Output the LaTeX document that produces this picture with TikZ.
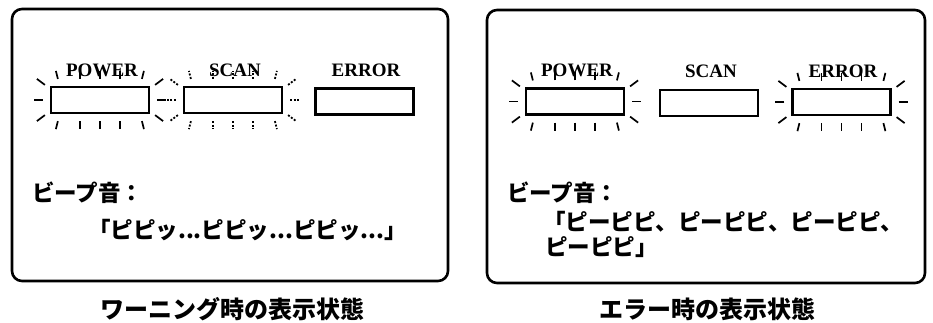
\documentclass[tikz,border=0pt]{standalone}
\usepackage{fontspec}
\newfontfamily\jp{Noto Sans CJK JP}
\newfontfamily\labelfont{Liberation Serif}
\usetikzlibrary{calc}
\newcommand\glowrays[2]{%
  \foreach \dx/\sl in {8/-2,30/0,50/0,70/0,92/2}{%
    \draw[#2] ($(#1.north west)+(\dx,-7)$) -- ++(\sl,-8);
    \draw[#2] ($(#1.south west)+(\dx,7)$) -- ++(\sl,8);
  }
  \draw[#2] ($(#1.north west)+(-5,-1)$) -- ++(-8,-6);
  \draw[#2] ($(#1.west)+(-7,0)$) -- ++(-9,0);
  \draw[#2] ($(#1.south west)+(-5,1)$) -- ++(-8,6);
  \draw[#2] ($(#1.north east)+(5,-1)$) -- ++(8,-6);
  \draw[#2] ($(#1.east)+(7,0)$) -- ++(9,0);
  \draw[#2] ($(#1.south east)+(5,1)$) -- ++(8,6);
}
\tikzset{
  panel/.style={draw, line width=2.6pt, rounded corners=10pt, inner sep=0},
  led/.style={draw, line width=2.2pt, minimum width=98pt, minimum height=26pt, inner sep=0},
  ledlabel/.style={font=\labelfont\bfseries\fontsize{19}{19}\selectfont, inner sep=0},
  glow/.style={line width=1.7pt},
  blink/.style={line width=1.8pt, dash pattern=on 2pt off 1.6pt},
  beep/.style={font=\jp\bfseries\fontsize{22.5}{24}\selectfont, anchor=west, inner sep=0},
  caption/.style={font=\jp\bfseries\fontsize{24}{24}\selectfont, inner sep=0}
}
\begin{document}
\begin{tikzpicture}[x=1pt,y=-1pt]
\useasboundingbox (0,0) rectangle (933,322);
% panels
\node[panel, minimum width=436pt, minimum height=272pt] (pL) at (230,145) {};
\node[panel, minimum width=438pt, minimum height=273pt] (pR) at (706,146.5) {};
% left panel LEDs
\node[led] (lpow) at (100,100) {};
\node[led] (lscan) at (233,100) {};
\node[led] (lerr) at (364.5,101.5) {};
\node[ledlabel] (lpowt) at (102,70) {POWER};
\node[ledlabel] (lscant) at (235,70) {SCAN};
\node[ledlabel] (lerrt) at (366,70) {ERROR};
\glowrays{lpow}{glow}
\glowrays{lscan}{blink}
% right panel LEDs
\node[led] (rpow) at (575,101.5) {};
\node[led] (rscan) at (709,103) {};
\node[led] (rerr) at (841.5,102) {};
\node[ledlabel] (rpowt) at (577,70) {POWER};
\node[ledlabel] (rscant) at (711,71) {SCAN};
\node[ledlabel] (rerrt) at (843,71) {ERROR};
\glowrays{rpow}{glow}
\glowrays{rerr}{glow}
% beep texts
\node[beep] (lb1) at (32,193) {ビープ音：};
\node[beep] (lb2) at (88,230) {「ピピッ...ピピッ...ピピッ...」};
\node[beep] (rb1) at (507,193) {ビープ音：};
\node[beep] (rb2) at (543,222) {「ピーピピ、ピーピピ、ピーピピ、};
\node[beep] (rb3) at (545,247) {ピーピピ」};
% captions
\node[caption] (capL) at (232,309) {ワーニング時の表示状態};
\node[caption] (capR) at (707,309) {エラー時の表示状態};
\end{tikzpicture}
\end{document}
